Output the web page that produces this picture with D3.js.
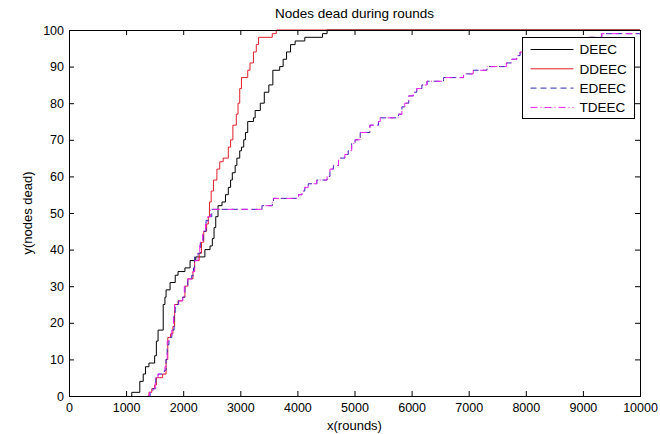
<!DOCTYPE html>
<html>
<head>
<meta charset="utf-8">
<script src="https://cdn.jsdelivr.net/npm/d3@7"></script>
<style>
  body { margin: 0; background: #fff; }
  text { font-family: Arial, "Liberation Sans", sans-serif; fill: #000; }
</style>
</head>
<body>
<div id="chart"></div>
<script>
const chart_width = 660;
const chart_height = 434;
const margin = { left: 69, right: 20, top: 30, bottom: 38 };

// [round, nodes dead] steps
const deec = [[1090,0],[1100,1],[1240,4],[1300,6],[1340,8],[1400,9],[1500,11],[1530,15],[1560,18],[1650,25],
  [1680,27],[1700,29],[1770,31],[1860,33],[1910,34],[2030,35],[2120,37],[2220,38],[2380,40],[2470,41],
  [2510,43],[2540,46],[2570,49],[2610,52],[2680,53],[2740,55],[2790,57],[2830,59],[2860,61],[2910,63],
  [2940,65],[2990,67],[3020,68],[3060,70],[3090,72],[3130,75],[3230,76],[3260,78],[3350,80],[3420,83],
  [3500,85],[3570,89],[3690,90],[3750,92],[3810,94],[3880,96],[3960,97],[4130,98],[4440,99],[4520,100],[10000,100]];

const ddeec = [[1390,0],[1400,1],[1450,2],[1500,3],[1530,5],[1640,6],[1700,10],[1730,16],[1780,17],[1820,19],
  [1850,25],[1910,26],[1990,27],[2030,30],[2080,32],[2170,34],[2200,37],[2280,39],[2320,42],[2360,45],
  [2410,47],[2440,49],[2460,53],[2490,56],[2530,59],[2590,62],[2640,64],[2700,65],[2790,68],[2830,70],
  [2870,74],[2930,77],[2960,80],[2990,84],[3020,87],[3130,89],[3170,91],[3230,94],[3280,96],[3320,98],
  [3560,99],[3630,100],[10000,100]];

const edeec = [[1390,0],[1420,1],[1470,2],[1520,5],[1560,6],[1670,7],[1700,10],[1720,14],[1750,16],[1800,18],
  [1840,22],[1860,25],[1920,26],[1990,27],[2030,30],[2080,32],[2150,33],[2180,35],[2200,38],[2260,39],
  [2300,42],[2350,45],[2400,48],[2450,49],[2500,51],[3380,52],[3560,53],[3580,54],[4020,55],[4080,56],
  [4130,57],[4190,58],[4340,59],[4520,60],[4570,62],[4630,63],[4720,65],[4830,66],[4890,67],[4950,69],
  [5010,70],[5100,72],[5270,74],[5420,75],[5450,76],[5770,77],[5830,79],[5880,80],[5950,82],[6030,83],
  [6090,84],[6180,85],[6270,86],[6560,87],[6910,88],[7080,89],[7320,90],[7660,91],[7750,92],[7840,93],
  [7900,94],[8200,95],[8600,96],[8900,97],[9100,98],[9330,99],[10000,99]];

const tdeec = [[1380,0],[1410,1],[1460,2],[1510,5],[1560,6],[1680,8],[1700,10],[1720,15],[1750,16],[1800,18],
  [1830,22],[1850,25],[1920,26],[1990,27],[2020,30],[2080,32],[2170,34],[2200,37],[2260,39],[2290,42],
  [2340,45],[2390,47],[2430,49],[2480,51],[3380,52],[3560,53],[3580,54],[4020,55],[4080,56],[4130,57],
  [4190,58],[4340,59],[4520,60],[4570,62],[4630,63],[4720,65],[4830,66],[4890,67],[4950,69],[5010,70],
  [5100,72],[5270,74],[5420,75],[5450,76],[5770,77],[5830,79],[5880,80],[5950,82],[6030,83],[6090,84],
  [6180,85],[6270,86],[6560,87],[6910,88],[7080,89],[7320,90],[7660,91],[7750,92],[7840,93],[7900,94],
  [8200,95],[8600,96],[8900,97],[9100,98],[9330,99],[10000,99]];

const series_names = ['DEEC', 'DDEEC', 'EDEEC', 'TDEEC'];
const series_data = [deec, ddeec, edeec, tdeec];
const series_colors = ['#000000', '#e0202a', '#2a2ab0', '#ee22ee'];
const series_dash = ['none', 'none', '6,4', '7,3,1,3'];

const x_ticks = [0, 1000, 2000, 3000, 4000, 5000, 6000, 7000, 8000, 9000, 10000];
const y_ticks = [0, 10, 20, 30, 40, 50, 60, 70, 80, 90, 100];

//--------------------------------------------------------------------
const svg = d3.select('#chart')
    .append('svg')
    .attr('width', chart_width)
    .attr('height', chart_height);

svg.append('rect')
    .attr('width', chart_width)
    .attr('height', chart_height)
    .attr('fill', '#fff');

const x_scale = d3.scaleLinear()
    .domain([0, 10000])
    .range([margin.left, chart_width - margin.right]);

const y_scale = d3.scaleLinear()
    .domain([0, 100])
    .range([chart_height - margin.bottom, margin.top]);

//--------------------------------------------------------------------
// lines
const line = d3.line()
    .x(d => x_scale(d[0]))
    .y(d => y_scale(d[1]))
    .curve(d3.curveStepAfter);

svg.append('g').selectAll('path')
    .data(series_data)
    .enter()
    .append('path')
    .attr('d', d => line(d))
    .attr('fill', 'none')
    .attr('stroke', (d, i) => series_colors[i])
    .attr('stroke-width', 1)
    .attr('stroke-dasharray', (d, i) => series_dash[i]);

//--------------------------------------------------------------------
// axes, ticks pointing inward on all four sides
const style_axis = g => {
    g.select('.domain').remove();
    g.selectAll('line').attr('stroke', '#000');
    g.selectAll('text').attr('font-size', '12.5px').attr('font-family', 'Arial, "Liberation Sans", sans-serif');
};

svg.append('g')
    .attr('transform', 'translate(0,' + y_scale(0) + ')')
    .call(d3.axisBottom(x_scale).tickValues(x_ticks).tickSize(-5).tickPadding(7).tickFormat(d3.format('d')))
    .call(style_axis);

svg.append('g')
    .attr('transform', 'translate(0,' + y_scale(100) + ')')
    .call(d3.axisTop(x_scale).tickValues(x_ticks).tickSize(-5).tickFormat(''))
    .call(style_axis);

svg.append('g')
    .attr('transform', 'translate(' + x_scale(0) + ',0)')
    .call(d3.axisLeft(y_scale).tickValues(y_ticks).tickSize(-5).tickPadding(5))
    .call(style_axis);

svg.append('g')
    .attr('transform', 'translate(' + x_scale(10000) + ',0)')
    .call(d3.axisRight(y_scale).tickValues(y_ticks).tickSize(-5).tickFormat(''))
    .call(style_axis);

svg.append('rect')
    .attr('x', x_scale(0) + 0.5)
    .attr('y', y_scale(100) + 0.5)
    .attr('width', x_scale(10000) - x_scale(0))
    .attr('height', y_scale(0) - y_scale(100))
    .attr('fill', 'none')
    .attr('stroke', '#000');

//--------------------------------------------------------------------
// labels
svg.append('text')
    .attr('x', (x_scale(0) + x_scale(10000)) / 2)
    .attr('y', 18)
    .attr('text-anchor', 'middle')
    .attr('font-size', '13.5px')
    .text('Nodes dead during rounds');

svg.append('text')
    .attr('x', (x_scale(0) + x_scale(10000)) / 2)
    .attr('y', 430)
    .attr('text-anchor', 'middle')
    .attr('font-size', '13px')
    .text('x(rounds)');

svg.append('text')
    .attr('transform', 'translate(32,' + ((y_scale(0) + y_scale(100)) / 2) + ') rotate(-90)')
    .attr('text-anchor', 'middle')
    .attr('font-size', '13px')
    .text('y(nodes dead)');

//--------------------------------------------------------------------
// legend
const legend = svg.append('g')
    .attr('transform', 'translate(522.5,37.5)');

legend.append('rect')
    .attr('width', 112)
    .attr('height', 81)
    .attr('fill', '#fff')
    .attr('stroke', '#000');

const rows = legend.selectAll('g.row')
    .data(series_names)
    .enter()
    .append('g')
    .attr('class', 'row')
    .attr('transform', (d, i) => 'translate(0,' + (12 + i * 19.3) + ')');

rows.append('line')
    .attr('x1', 8)
    .attr('x2', 51)
    .attr('stroke', (d, i) => series_colors[i])
    .attr('stroke-dasharray', (d, i) => series_dash[i]);

rows.append('text')
    .attr('x', 57)
    .attr('dy', '0.36em')
    .attr('font-size', '13.5px')
    .text(d => d);
</script>
</body>
</html>
